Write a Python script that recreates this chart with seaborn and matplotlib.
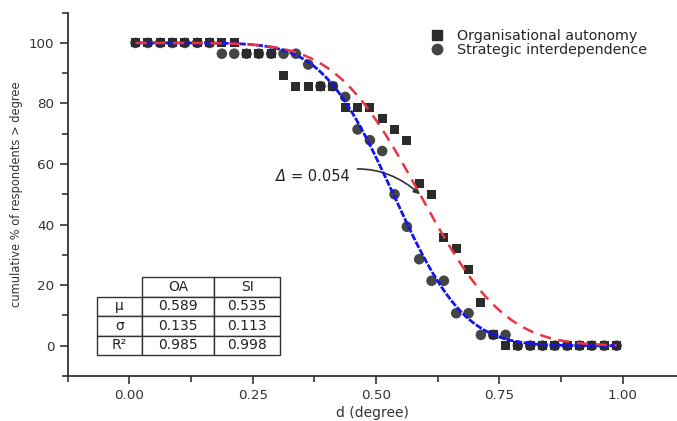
import math
import numpy as np
import pandas as pd
import matplotlib
matplotlib.use("Agg")
import matplotlib.pyplot as plt
from matplotlib.ticker import MultipleLocator
from matplotlib.lines import Line2D
import seaborn as sns

# bin centres of the degree measure
degree = [0.0125, 0.0375, 0.0625, 0.0875, 0.1125, 0.1375, 0.1625, 0.1875,
          0.2125, 0.2375, 0.2625, 0.2875, 0.3125, 0.3375, 0.3625, 0.3875,
          0.4125, 0.4375, 0.4625, 0.4875, 0.5125, 0.5375, 0.5625, 0.5875,
          0.6125, 0.6375, 0.6625, 0.6875, 0.7125, 0.7375, 0.7625, 0.7875,
          0.8125, 0.8375, 0.8625, 0.8875, 0.9125, 0.9375, 0.9625, 0.9875]

# cumulative % of respondents above each degree
oa_pct = [100, 100, 100, 100, 100, 100, 100, 100, 100, 96.43, 96.43, 96.43,
          89.29, 85.71, 85.71, 85.71, 85.71, 78.57, 78.57, 78.57, 75.0, 71.43,
          67.86, 53.57, 50.0, 35.71, 32.14, 25.0, 14.29, 3.57,
          0, 0, 0, 0, 0, 0, 0, 0, 0, 0]
si_pct = [100, 100, 100, 100, 100, 100, 100, 96.43, 96.43, 96.43, 96.43, 96.43,
          96.43, 96.43, 92.86, 85.71, 85.71, 82.14, 71.43, 67.86, 64.29, 50.0,
          39.29, 28.57, 21.43, 21.43, 10.71, 10.71, 3.57, 3.57, 3.57,
          0, 0, 0, 0, 0, 0, 0, 0, 0]

# fitted normal parameters (table in the chart)
param_labels = ["\u03bc", "\u03c3", "R\u00b2"]
oa_params = [0.589, 0.135, 0.985]
si_params = [0.535, 0.113, 0.998]

series_names = ["Organisational autonomy", "Strategic interdependence"]
delta_value = "= 0.054"


def survival(xs, mu, sigma):
    # 100 * (1 - normal cdf)
    return [100 * 0.5 * (1 - math.erf((x - mu) / (sigma * math.sqrt(2)))) for x in xs]


sns.set_style("ticks")
plt.rcParams["font.family"] = ["DejaVu Sans"]

dark = "#333333"
fig = plt.figure(figsize=(6.77, 4.21), dpi=100)
ax = fig.add_axes([0.1, 0.107, 0.9, 0.863])

xs = np.linspace(degree[0], degree[-1], 300)
fits = pd.DataFrame({"d": xs,
                     "oa": survival(xs, oa_params[0], oa_params[1]),
                     "si": survival(xs, si_params[0], si_params[1])})

# points
sns.scatterplot(x=degree, y=si_pct, marker="o", s=58, color="#454545",
                edgecolor="none", ax=ax, zorder=2, legend=False)
sns.scatterplot(x=degree, y=oa_pct, marker="s", s=42, color="#2b2b2b",
                edgecolor="none", ax=ax, zorder=3, legend=False)

# fitted curves
sns.lineplot(data=fits, x="d", y="si", color="#1414f0", lw=2.0,
             linestyle=(0, (2.5, 0.6)), ax=ax, zorder=4)
sns.lineplot(data=fits, x="d", y="oa", color="#ec3340", lw=1.8,
             linestyle=(0, (4.5, 3)), ax=ax, zorder=5)

ax.set_xlim(-0.125, 1.11)
ax.set_ylim(-10, 110)
ax.set_xticks([0, 0.25, 0.5, 0.75, 1.0])
ax.set_xticklabels(["0.00", "0.25", "0.50", "0.75", "1.00"])
ax.xaxis.set_minor_locator(MultipleLocator(0.125))
ax.set_yticks([0, 20, 40, 60, 80, 100])
ax.yaxis.set_minor_locator(MultipleLocator(10))

sns.despine(ax=ax)
for side in ["left", "bottom"]:
    ax.spines[side].set_color(dark)
    ax.spines[side].set_linewidth(1.3)
ax.tick_params(which="major", direction="out", length=6, width=1.2,
               color=dark, labelcolor=dark, labelsize=9.7, pad=3.5)
ax.tick_params(which="minor", direction="out", length=4, width=1.2, color=dark)

ax.set_xlabel("d (degree)", fontsize=10, color=dark, labelpad=3)
ax.set_ylabel("cumulative % of respondents > degree", fontsize=8.3, color=dark,
              labelpad=4)

# legend
handles = [Line2D([], [], marker="s", ls="none", color="#2b2b2b", markersize=6.5),
           Line2D([], [], marker="o", ls="none", color="#454545", markersize=7.5)]
ax.legend(handles, series_names, loc="upper left", bbox_to_anchor=(0.595, 0.955),
          frameon=False, fontsize=10.3, handlelength=1.0, handletextpad=0.9,
          labelspacing=0.0, borderpad=0, borderaxespad=0)

# delta annotation: italic delta, then the value with the arrow
ax.text(0.298, 56, "\u0394", style="italic", ha="left", va="center",
        fontsize=10.5, color="#222222")
ax.annotate(delta_value, xy=(oa_params[0], 50), xytext=(0.328, 56),
            ha="left", va="center", fontsize=10.5, color="#222222",
            arrowprops=dict(arrowstyle="-|>", color="#333333", lw=1.2,
                            connectionstyle="arc3,rad=-0.3", mutation_scale=9,
                            shrinkA=3, shrinkB=0))

# parameter table
cell_text = [[lab, f"{a:.3f}", f"{b:.3f}"]
             for lab, a, b in zip(param_labels, oa_params, si_params)]
widths = [45, 72.6, 65.7]
widths = [w / sum(widths) for w in widths]
tab = ax.table(cellText=cell_text, colLabels=["", "OA", "SI"], colWidths=widths,
               cellLoc="center", bbox=[0.0476, 0.057, 0.3008, 0.2155], zorder=6)
tab.auto_set_font_size(False)
tab.set_fontsize(10)
for (r, c), cell in tab.get_celld().items():
    cell.set_edgecolor(dark)
    cell.set_linewidth(1.0)
    cell.get_text().set_color("#222222")
tab[0, 0].visible_edges = ""

fig.savefig("out.png", dpi=100)
